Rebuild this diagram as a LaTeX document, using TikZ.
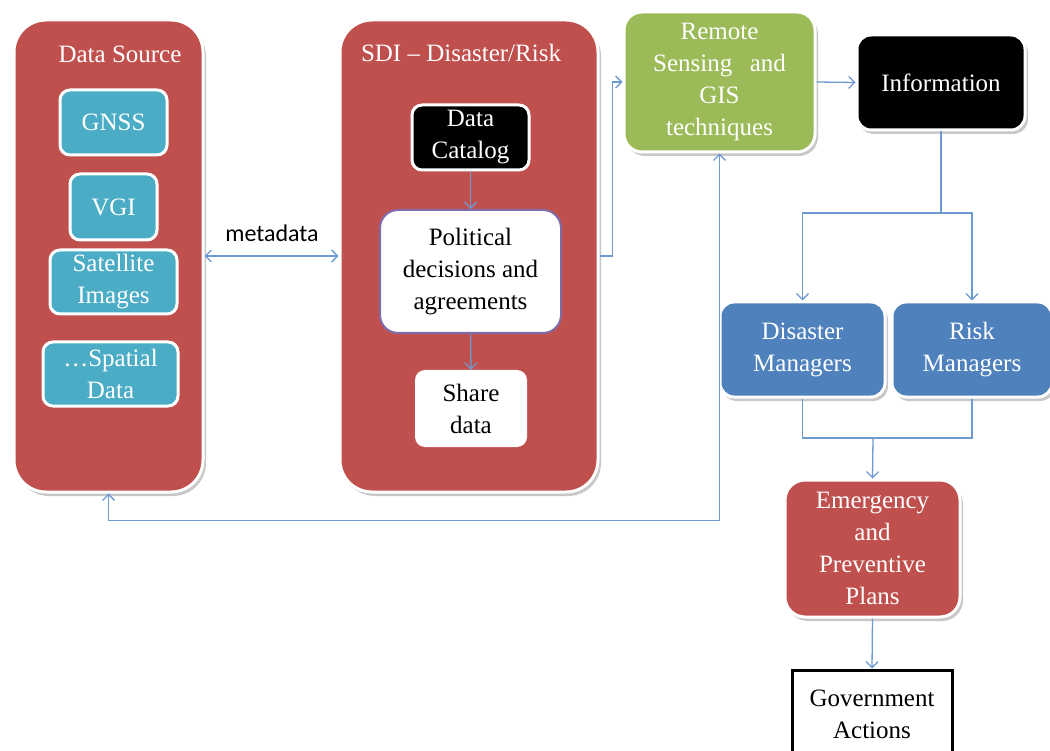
\documentclass[tikz,border=0pt]{standalone}
\usepackage{fontspec}
\newfontfamily\tms[Ligatures=TeX]{Liberation Serif}
\newfontfamily\lsans{Carlito}
\usetikzlibrary{arrows.meta}
\definecolor{cred}{HTML}{C0504D}
\definecolor{cteal}{HTML}{4BACC6}
\definecolor{cgreen}{HTML}{9BBB59}
\definecolor{cblue}{HTML}{4F81BD}
\definecolor{cline}{HTML}{6E9AD2}
\definecolor{cpurple}{HTML}{7F6BA8}
\definecolor{cshadow}{HTML}{C8C8C8}
\tikzset{
  bx/.style={rounded corners=#1, draw=white, line width=3pt, text=white, align=center,
    inner sep=0pt, font=\tms\fontsize{25}{32}\selectfont},
  bx/.default=10pt,
  conn/.style={draw=cline, line width=1.3pt},
  arr/.style={conn, -{Straight Barb[length=6pt,width=12pt]}},
  biarr/.style={conn, {Straight Barb[length=6pt,width=12pt]}-{Straight Barb[length=6pt,width=12pt]}},
  ttl/.style={text=white, font=\tms\fontsize{25}{32}\selectfont, inner sep=0pt},
  shd/.style={fill=cshadow, draw=none, rounded corners=#1},
  shd/.default=10pt
}
\begin{document}
\begin{tikzpicture}[x=1pt,y=-1pt]
\useasboundingbox (0,0) rectangle (1050,751);
% shadows
\fill[shd=33pt] (16,23) rectangle (206,496);
\fill[shd=33pt] (342,23) rectangle (601,496);
\fill[shd=19pt] (626,15) rectangle (818,156);
\fill[shd=15pt] (859,38) rectangle (1028,134);
\fill[shd=15pt] (722,305) rectangle (888,401);
\fill[shd=15pt] (894,305) rectangle (1055,401);
\fill[shd=21pt] (787,483) rectangle (963,621);
% big containers
\node[bx=32pt, fill=cred, minimum width=189pt, minimum height=472pt] (ds) at (108.5,256) {};
\node[bx=32pt, fill=cred, minimum width=258pt, minimum height=472pt] (sdi) at (469,256) {};
\node[ttl] (dst) at (120,54) {Data Source};
\node[ttl] (sdit) at (461,53) {SDI -- Disaster/Risk};
% data source items
\node[bx, fill=cteal, minimum width=107pt, minimum height=65pt] (gnss) at (113.5,122.5) {GNSS};
\node[bx, fill=cteal, minimum width=87pt, minimum height=66pt] (vgi) at (113.5,207) {VGI};
\node[bx, fill=cteal, minimum width=127pt, minimum height=64pt] (sat) at (113.5,282) {Satellite\\Images};
\node[bx, fill=cteal, minimum width=135pt, minimum height=64pt] (spa) at (110.5,374) {\ldots Spatial\\Data};
% SDI items
\node[bx, fill=black, minimum width=117pt, minimum height=65pt] (dc) at (470.5,137.5) {Data\\Catalog};
\node[bx=18pt, fill=white, draw=cpurple, line width=2pt, text=black, minimum width=181pt, minimum height=123pt] (pol) at (470.5,271.5) {Political\\decisions and\\agreements};
\node[rounded corners=10pt, fill=white, text=black, align=center, inner sep=0pt, font=\tms\fontsize{25}{32}\selectfont, minimum width=112pt, minimum height=77pt] (sh) at (471,408.5) {Share\\data};
% right side
\node[bx=18pt, fill=cgreen, minimum width=191pt, minimum height=140pt] (rs) at (719.5,82) {Remote\\Sensing\hspace{0.45em} and\\GIS\\techniques};
\node[bx=14pt, fill=black, minimum width=168pt, minimum height=95pt] (info) at (941,82.5) {Information};
\node[bx=14pt, fill=cblue, minimum width=165pt, minimum height=95pt] (dm) at (802.5,349.5) {Disaster\\Managers};
\node[bx=14pt, fill=cblue, minimum width=160pt, minimum height=95pt] (rm) at (972,349.5) {Risk\\Managers};
\node[bx=20pt, fill=cred, minimum width=175pt, minimum height=137pt] (ep) at (872.5,548.5) {Emergency\\and\\Preventive\\Plans};
\node[draw=black, line width=3pt, fill=white, text=black, align=center, inner sep=0pt, font=\tms\fontsize{25}{32}\selectfont, minimum width=160pt, minimum height=88pt] (ga) at (872,714) {Government\\Actions};
% label
\node[font=\lsans\fontsize{24}{28}\selectfont, inner sep=0pt] (meta) at (272,233) {metadata};
% coordinates
\coordinate (sp) at (941,213);
\coordinate (jn) at (873,438);
% connectors
\draw[biarr] (ds.east) -- (sdi.west);
\draw[arr] (dc.south) -- (pol.north);
\draw[arr] (pol.south) -- (sh.north);
\draw[arr] (sdi.east) -- ++(13,0) |- (rs.west);
\draw[arr] (rs.east) -- (info.west);
\draw[conn] (info.south) -- (sp);
\draw[arr] (sp) -| (dm.north);
\draw[arr] (sp) -| (rm.north);
\draw[conn] (dm.south) |- (jn) -| (rm.south);
\draw[arr] (jn) -- (ep.north);
\draw[arr] (ep.south) -- (ga.north);
\draw[biarr] (ds.south) -- ++(0,27) -| (rs.south);
\end{tikzpicture}
\end{document}
